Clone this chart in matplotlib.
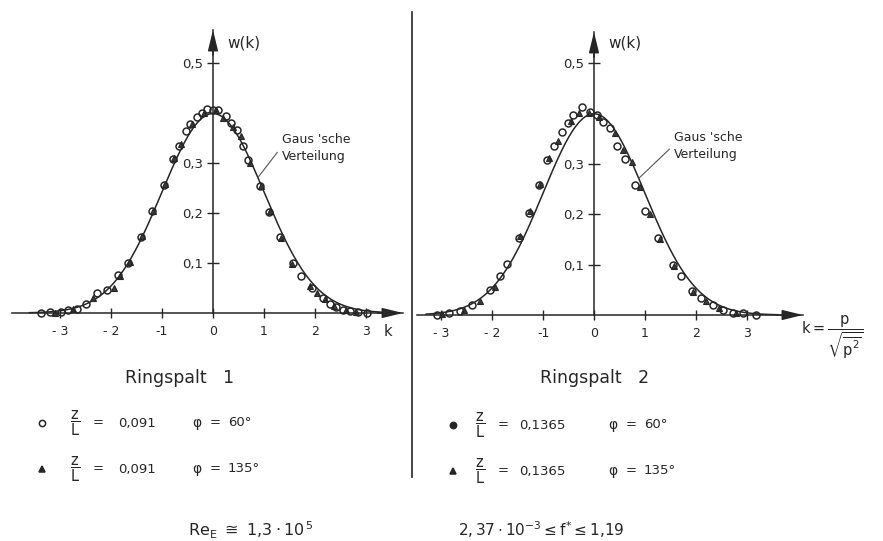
import numpy as np
import matplotlib
matplotlib.use("Agg")
import matplotlib.pyplot as plt
from matplotlib.lines import Line2D

plt.rcParams['font.family'] = ['DejaVu Sans']
plt.rcParams['mathtext.fontset'] = 'dejavusans'
plt.rcParams['mathtext.default'] = 'regular'

INK = '#262626'

# Ringspalt 1, z/L = 0,091
k1_60 = [-3.37, -3.20, -2.97, -2.84, -2.67, -2.49, -2.28, -2.08, -1.87, -1.67,
         -1.42, -1.20, -0.97, -0.79, -0.66, -0.53, -0.45, -0.31, -0.22, -0.11,
         0.00, 0.10, 0.25, 0.35, 0.48, 0.59, 0.69, 0.92, 1.10, 1.31,
         1.56, 1.72, 1.94, 2.15, 2.29, 2.42, 2.55, 2.69, 2.85, 3.01]
w1_60 = [0.001, 0.003, 0.003, 0.006, 0.009, 0.018, 0.040, 0.047, 0.076, 0.101,
         0.153, 0.204, 0.256, 0.307, 0.334, 0.363, 0.377, 0.392, 0.399, 0.409,
         0.406, 0.406, 0.394, 0.380, 0.365, 0.333, 0.306, 0.254, 0.203, 0.152,
         0.100, 0.075, 0.051, 0.031, 0.018, 0.012, 0.007, 0.004, 0.002, 0.000]
k1_135 = [-3.09, -2.75, -2.35, -1.95, -1.82, -1.62, -1.40, -1.18, -0.95, -0.77,
          -0.62, -0.41, -0.18, 0.05, 0.20, 0.40, 0.55, 0.72, 0.95, 1.12,
          1.33, 1.55, 1.90, 2.03, 2.20, 2.37, 2.60, 2.80]
w1_135 = [0.000, 0.008, 0.030, 0.050, 0.075, 0.102, 0.155, 0.205, 0.258, 0.310,
          0.337, 0.378, 0.400, 0.405, 0.390, 0.372, 0.355, 0.300, 0.255, 0.205,
          0.150, 0.098, 0.055, 0.041, 0.028, 0.015, 0.006, 0.003]

# Ringspalt 2, z/L = 0,1365
k2_60 = [-3.08, -2.86, -2.63, -2.40, -2.04, -1.84, -1.71, -1.48, -1.27, -1.09,
         -0.92, -0.78, -0.63, -0.52, -0.41, -0.23, -0.08, 0.05, 0.18, 0.31,
         0.46, 0.61, 0.80, 1.00, 1.26, 1.55, 1.72, 1.92, 2.11, 2.34,
         2.54, 2.73, 2.93, 3.19]
w2_60 = [0.000, 0.004, 0.007, 0.020, 0.050, 0.077, 0.101, 0.153, 0.203, 0.257,
         0.308, 0.335, 0.363, 0.380, 0.397, 0.413, 0.403, 0.397, 0.383, 0.370,
         0.335, 0.309, 0.257, 0.207, 0.153, 0.100, 0.077, 0.048, 0.033, 0.020,
         0.010, 0.003, 0.003, 0.000]
k2_135 = [-2.99, -2.55, -2.24, -1.95, -1.45, -1.25, -1.07, -0.88, -0.70, -0.45,
          -0.30, -0.10, 0.10, 0.41, 0.57, 0.74, 0.90, 1.11, 1.30, 1.57,
          1.95, 2.20, 2.45, 2.80]
w2_135 = [0.002, 0.010, 0.027, 0.055, 0.157, 0.207, 0.260, 0.312, 0.345, 0.385,
          0.400, 0.400, 0.393, 0.360, 0.327, 0.303, 0.253, 0.200, 0.150, 0.097,
          0.045, 0.028, 0.014, 0.004]

xticks = [-3, -2, -1, 0, 1, 2, 3]
xticklabels = ['- 3', '- 2', '-1', '0', '1', '2', '3']
yticks = [0.1, 0.2, 0.3, 0.5]
yticklabels = ['0,1', '0,2', '0,3', '0,5']

W, H = 883, 541
fig = plt.figure(figsize=(W / 100, H / 100), dpi=100)
fig.patch.set_facecolor('white')


def px(x, y):
    return x / W, 1 - y / H


def gauss(k):
    return np.exp(-0.5 * np.asarray(k) ** 2) / np.sqrt(2 * np.pi)


def make_panel(rect, xlim, ylim, k60, w60, k135, w135, gx, note_xy, note_txt):
    ax = fig.add_axes(rect)
    ax.set_xlim(*xlim)
    ax.set_ylim(*ylim)
    ax.patch.set_alpha(0)
    for s in ['top', 'right']:
        ax.spines[s].set_visible(False)
    ax.spines['left'].set_position(('data', 0))
    for s in ['left', 'bottom']:
        ax.spines[s].set_color(INK)
        ax.spines[s].set_linewidth(1.1)
    ax.set_xticks(xticks)
    ax.set_xticklabels(xticklabels)
    ax.set_yticks(yticks)
    ax.set_yticklabels(yticklabels)
    ax.tick_params(axis='x', direction='inout', length=7, width=1.0, pad=5,
                   colors=INK, labelsize=9)
    ax.tick_params(axis='y', direction='inout', length=8, width=1.0, pad=3,
                   colors=INK, labelsize=9.5)

    k = np.linspace(gx[0], gx[1], 400)
    ax.plot(k, gauss(k), color=INK, lw=1.1, clip_on=False)
    ax.plot(k135, w135, ls='none', marker='^', ms=5, mfc='#3a3a3a', mec=INK,
            mew=0.8, clip_on=False)
    ax.plot(k60, w60, ls='none', marker='o', ms=5, mfc='none', mec=INK,
            mew=1.1, clip_on=False)

    # arrow heads on the axes
    arrow = dict(arrowstyle='-|>,head_length=0.9,head_width=0.22',
                 color=INK, lw=1.1, mutation_scale=14, shrinkA=0, shrinkB=0)
    ax.annotate('', xy=(xlim[1], 0), xytext=(xlim[1] - 0.5, 0),
                arrowprops=arrow, annotation_clip=False)
    ax.annotate('', xy=(0, ylim[1]), xytext=(0, ylim[1] - 0.05),
                arrowprops=arrow, annotation_clip=False)

    ax.text(0.29, 0.54, 'w(k)', fontsize=11, color=INK, ha='left', va='center')
    ax.annotate(note_txt, xy=(0.88, gauss(0.88)), xytext=note_xy,
                fontsize=9, color=INK, ha='left', va='center', linespacing=1.45,
                arrowprops=dict(arrowstyle='-', color='#555555', lw=0.8,
                                shrinkA=2, shrinkB=0, relpos=(0, 0.55)))
    return ax


ax1 = make_panel([12 / W, (H - 313) / H, 391 / W, 283 / H],
                 (-3.94, 3.725), (0, 0.566),
                 k1_60, w1_60, k1_135, w1_135, (-3.6, 3.4),
                 (1.35, 0.33), "Gaus 'sche\nVerteilung")
ax1.text(3.43, -0.036, 'k', fontsize=10.5, color=INK, ha='center', va='center')

ax2 = make_panel([417 / W, (H - 315) / H, 386 / W, 283 / H],
                 (-3.48, 4.11), (0, 0.561),
                 k2_60, w2_60, k2_135, w2_135, (-3.3, 3.6),
                 (1.58, 0.335), "Gaus 'sche\nVerteilung")

# divider between the two panels
fig.add_artist(Line2D([412 / W, 412 / W], [1 - 12 / H, 1 - 477 / H],
                      transform=fig.transFigure, color=INK, lw=1.2))

# k definition at the right end of the second axis
fig.text(*px(801, 337), r'$k=\dfrac{p}{\sqrt{\overline{p^2}}}$', fontsize=10.5,
         color=INK, ha='left', va='center')

# captions
fig.text(*px(180, 378), 'Ringspalt   1', fontsize=12.5, color=INK,
         ha='center', va='center')
fig.text(*px(595, 378), 'Ringspalt   2', fontsize=12.5, color=INK,
         ha='center', va='center')

rows = [
    # marker, face, marker x, z/L x, '=' x, value x, phi x, y, value, angle
    ('o', 'none', 42, 75, 98, 118, 197, 423, '0,091', '60°'),
    ('^', INK, 42, 75, 98, 118, 197, 469, '0,091', '135°'),
    ('o', INK, 453, 480, 503, 519, 613, 425, '0,1365', '60°'),
    ('^', INK, 453, 480, 503, 519, 613, 471, '0,1365', '135°'),
]
for mk, fc, xm, xf, xe, xv, xp, y, val, ang in rows:
    fig.add_artist(Line2D([xm / W], [1 - y / H], transform=fig.transFigure,
                          marker=mk, ms=4.5, mfc=fc, mec=INK, mew=1.1, ls='none'))
    fig.text(*px(xf, y), r'$\dfrac{z}{L}$', fontsize=10.5, color=INK,
             ha='center', va='center')
    fig.text(*px(xe, y), '=', fontsize=9.5, color=INK, ha='center', va='center')
    fig.text(*px(xv, y), val, fontsize=9.5, color=INK, ha='left', va='center')
    fig.text(*px(xp, y), 'φ', fontsize=10, color=INK, ha='center', va='center')
    fig.text(*px(xp + 18, y), '=', fontsize=9.5, color=INK, ha='center', va='center')
    fig.text(*px(xp + 31, y), ang, fontsize=9.5, color=INK, ha='left', va='center')

fig.text(*px(188, 536), r'$Re_E\ \cong\ 1{,}3 \cdot 10^{\,5}$', fontsize=11.5,
         color=INK, ha='left', va='baseline')
fig.text(*px(458, 536), r'$2{,}\,37 \cdot 10^{-3} \leq f^{*} \leq 1{,}19$',
         fontsize=11, color=INK, ha='left', va='baseline')

fig.savefig('out.png', dpi=100, facecolor='white')
